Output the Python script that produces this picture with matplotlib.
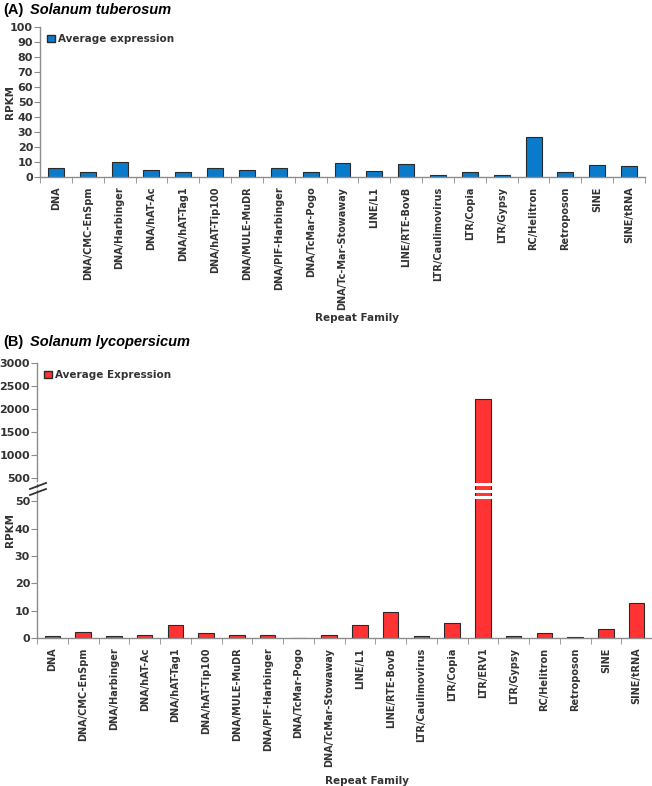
import numpy as np
import matplotlib
matplotlib.use('Agg')
import matplotlib.pyplot as plt
from matplotlib.patches import Patch

plt.rcParams['font.family'] = 'DejaVu Sans'
plt.rcParams['font.weight'] = 'bold'

# data: panel A (Solanum tuberosum)
fam_a = ['DNA', 'DNA/CMC-EnSpm', 'DNA/Harbinger', 'DNA/hAT-Ac', 'DNA/hAT-Tag1',
         'DNA/hAT-Tip100', 'DNA/MULE-MuDR', 'DNA/PIF-Harbinger', 'DNA/TcMar-Pogo',
         'DNA/Tc-Mar-Stowaway', 'LINE/L1', 'LINE/RTE-BovB', 'LTR/Caulimovirus',
         'LTR/Copia', 'LTR/Gypsy', 'RC/Helitron', 'Retroposon', 'SINE', 'SINE/tRNA']
rpkm_a = [5.7, 3.5, 10.2, 5.0, 3.5, 5.7, 4.5, 5.7, 3.5, 9.2, 4.0, 8.5, 1.4,
          3.6, 1.5, 27.0, 3.6, 8.0, 7.1]

# data: panel B (Solanum lycopersicum)
fam_b = ['DNA', 'DNA/CMC-EnSpm', 'DNA/Harbinger', 'DNA/hAT-Ac', 'DNA/hAT-Tag1',
         'DNA/hAT-Tip100', 'DNA/MULE-MuDR', 'DNA/PIF-Harbinger', 'DNA/TcMar-Pogo',
         'DNA/TcMar-Stowaway', 'LINE/L1', 'LINE/RTE-BovB', 'LTR/Caulimovirus',
         'LTR/Copia', 'LTR/ERV1', 'LTR/Gypsy', 'RC/Helitron', 'Retroposon', 'SINE',
         'SINE/tRNA']
rpkm_b = [0.7, 2.1, 0.7, 1.2, 4.6, 1.8, 1.0, 1.2, 0.1, 1.2, 4.9, 9.5, 0.6,
          5.4, 2210, 0.6, 1.7, 0.3, 3.2, 12.9]

blue = '#0a7acb'
red = '#ff3333'
edge = '#2a2a2a'
txt = '#333333'
spine = '#8c8c8c'

W, H = 652, 786
fig = plt.figure(figsize=(W / 100, H / 100), dpi=100)


def rect(x0, y0, x1, y1):
    # pixel box (top-left origin) -> figure fraction
    return [x0 / W, 1 - y1 / H, (x1 - x0) / W, (y1 - y0) / H]


def style(ax, n):
    for s in ['top', 'right']:
        ax.spines[s].set_visible(False)
    for s in ['left', 'bottom']:
        ax.spines[s].set_color(spine)
        ax.spines[s].set_linewidth(1.0)
    ax.tick_params(axis='y', colors=spine, labelcolor=txt, labelsize=8, length=4, pad=1)
    ax.set_xlim(-0.5, n - 0.5)
    ax.set_xticks(np.arange(n + 1) - 0.5, minor=True)
    ax.tick_params(axis='x', which='minor', length=4, colors=spine)
    ax.tick_params(axis='x', which='major', length=0, labelsize=7,
                   labelcolor=txt, pad=7)


def legend(ax, color, label):
    ax.legend(handles=[Patch(facecolor=color, edgecolor=edge, label=label)],
              loc='upper left', bbox_to_anchor=(0.0, 1.0), frameon=False,
              prop={'family': 'DejaVu Sans', 'weight': 'bold', 'size': 7.5},
              handlelength=0.7, handleheight=0.7, handletextpad=0.3,
              borderaxespad=0.3, labelcolor=txt)


def title(y, tag, name):
    fig.text(3 / W, 1 - y / H, tag, fontsize=10.5, fontweight='bold', va='center',
             family='Liberation Sans')
    fig.text(30 / W, 1 - y / H, name, fontsize=10.5, fontweight='bold',
             style='italic', va='center', family='Liberation Sans')


def ptext(x, y, s, **kw):
    fig.text(x / W, 1 - y / H, s, fontsize=7.5, fontweight='bold', color=txt,
             va='center', ha='center', **kw)


# ---- panel A ----
axa = fig.add_axes(rect(40, 27, 645, 177))
xa = np.arange(len(fam_a))
axa.bar(xa, rpkm_a, width=0.5, color=blue, edgecolor=edge, linewidth=0.8)
axa.set_ylim(0, 100)
axa.set_yticks(np.arange(0, 101, 10))
style(axa, len(fam_a))
axa.set_xticks(xa)
axa.set_xticklabels(fam_a, rotation=90)
legend(axa, blue, 'Average expression')
ptext(10, 102, 'RPKM', rotation=90)
ptext(357, 318, 'Repeat Family')
title(10, '(A)', 'Solanum tuberosum')

# ---- panel B (broken axis) ----
xb = np.arange(len(fam_b))
axt = fig.add_axes(rect(37, 363, 652, 490))
axb = fig.add_axes(rect(37, 490, 652, 638))
for ax in (axt, axb):
    ax.bar(xb, rpkm_b, width=0.5, color=red, edgecolor=edge, linewidth=0.8)
axt.set_ylim(240, 3000)
axt.set_yticks(np.arange(500, 3001, 500))
axb.set_ylim(0, 54.2)
axb.set_yticks(np.arange(0, 51, 10))
style(axt, len(fam_b))
style(axb, len(fam_b))
axt.spines['bottom'].set_visible(False)
axb.spines['top'].set_visible(False)
axt.set_xticks([])
axt.set_xticks([], minor=True)
axb.set_xticks(xb)
axb.set_xticklabels(fam_b, rotation=90)
legend(axt, red, 'Average Expression')
ptext(10, 530, 'RPKM', rotation=90)
ptext(367, 781, 'Repeat Family')
title(342, '(B)', 'Solanum lycopersicum')

# break marks on the y-axis
for yy in (486, 492):
    fig.add_artist(plt.Line2D([30 / W, 46 / W], [1 - (yy + 3) / H, 1 - (yy - 3) / H],
                              color=txt, lw=1.3))
    fig.add_artist(plt.Line2D([32 / W, 44 / W], [1 - (yy + 3) / H + 0.004,
                                                 1 - (yy - 3) / H + 0.004],
                              color='white', lw=1.0))
# white stripes across the tall bar
i_big = int(np.argmax(rpkm_b))
pos = axb.get_position()
x0 = pos.x0 + (i_big + 0.25) / len(fam_b) * pos.width
x1 = pos.x0 + (i_big + 0.75) / len(fam_b) * pos.width
for yy in (484, 491, 497):
    fig.add_artist(plt.Line2D([x0 - 0.003, x1 + 0.003], [1 - yy / H, 1 - yy / H],
                              color='white', lw=2.2))

fig.savefig('out.png', dpi=100, facecolor='white')
